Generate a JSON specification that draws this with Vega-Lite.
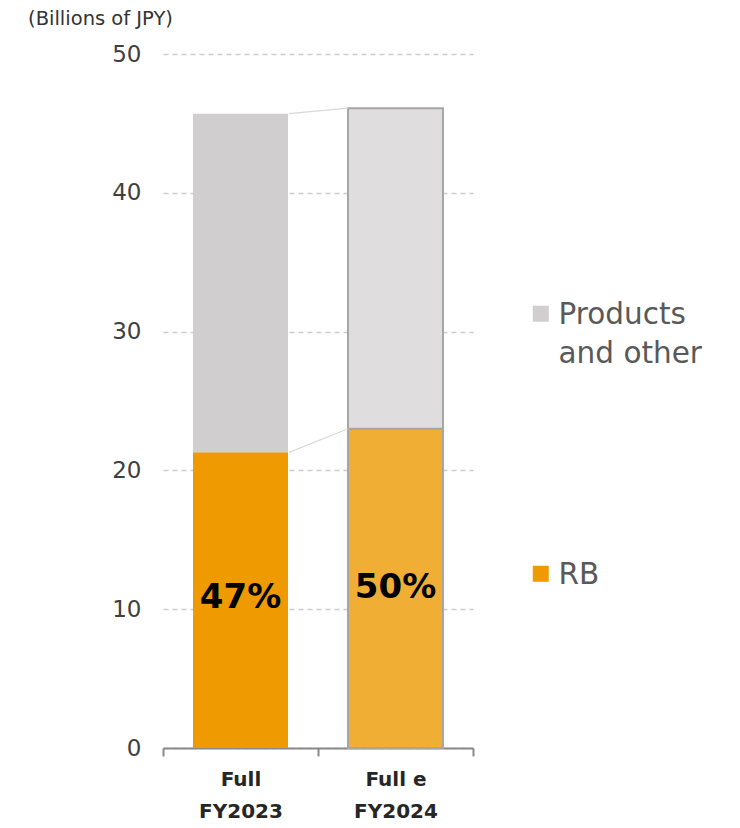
{
  "$schema": "https://vega.github.io/schema/vega-lite/v6.json",
  "width": 310,
  "height": 694,
  "autosize": "none",
  "padding": {"left": 163, "top": 54, "right": 267, "bottom": 80},
  "background": "white",
  "config": {"view": {"stroke": null}, "font": "DejaVu Sans"},
  "datasets": {
    "bars": [
      {"year": "FY2023", "series": "RB", "value": 21.3, "ord": 1},
      {"year": "FY2023", "series": "Products and other", "value": 24.4, "ord": 2},
      {"year": "FY2024", "series": "RB", "value": 23.0, "ord": 1},
      {"year": "FY2024", "series": "Products and other", "value": 23.1, "ord": 2}
    ],
    "labels": [
      {"year": "FY2023", "pct": "47%", "mid": 10.8},
      {"year": "FY2024", "pct": "50%", "mid": 11.5}
    ],
    "links": [
      {"from": "FY2023", "to": "FY2024", "a": 45.7, "b": 46.1},
      {"from": "FY2023", "to": "FY2024", "a": 21.3, "b": 23.0}
    ]
  },
  "layer": [
    {
      "data": {"name": "bars"},
      "transform": [{"filter": "datum.year == 'FY2023'"}],
      "mark": {"type": "bar", "width": {"band": 0.613}},
      "encoding": {
        "x": {
          "field": "year", "type": "nominal",
          "scale": {"domain": ["FY2023", "FY2024"], "paddingInner": 0, "paddingOuter": 0},
          "axis": {
            "title": null, "labelAngle": 0, "domain": true, "domainColor": "#898989", "domainWidth": 2,
            "ticks": true, "tickColor": "#898989", "tickWidth": 2, "tickSize": 8, "tickBand": "extent",
            "labelFontSize": 20, "labelFontWeight": "bold", "labelColor": "#262626", "labelPadding": 13,
            "labelLineHeight": 32,
            "labelExpr": "datum.value == 'FY2023' ? ['Full', 'FY2023'] : datum.value == 'FY2024' ? ['Full e', 'FY2024'] : ''"
          }
        },
        "y": {
          "field": "value", "type": "quantitative", "stack": "zero",
          "scale": {"domain": [0, 50], "nice": false},
          "axis": {
            "values": [0, 10, 20, 30, 40, 50],
            "title": "(Billions of JPY)", "titleAngle": 0, "titleX": -63, "titleY": -36,
            "titleAlign": "center", "titleBaseline": "middle", "titleFontSize": 19.5,
            "titleFontWeight": "normal", "titleColor": "#333333",
            "ticks": false, "domain": false, "labelFontSize": 23, "labelColor": "#404040",
            "labelPadding": 22, "grid": true, "gridDash": [5, 4], "gridColor": "#cccccc", "gridWidth": 1.5
          }
        },
        "color": {
          "field": "series", "type": "nominal",
          "scale": {"domain": ["Products and other", "RB"], "range": ["#D0CECE", "#EE9A00"]},
          "legend": {
            "orient": "none", "legendX": 363, "legendY": 245, "title": null,
            "symbolType": "square", "symbolSize": 256, "symbolStrokeWidth": 0,
            "labelFontSize": 29.5, "labelColor": "#595959", "labelOffset": 3,
            "rowPadding": 190, "labelBaseline": "alphabetic",
            "labelLimit": 300, "padding": 0,
            "labelExpr": "datum.label == 'Products and other' ? ['Products', 'and other'] : datum.label",
            "encode": {"labels": {"update": {"dy": {"value": 10}, "lineHeight": {"value": 39}}}}
          }
        },
        "order": {"field": "ord", "type": "quantitative"}
      }
    },
    {
      "data": {"name": "bars"},
      "transform": [{"filter": "datum.year == 'FY2024'"}],
      "mark": {"type": "bar", "width": {"band": 0.613}, "stroke": "#a6a6a6", "strokeWidth": 2},
      "encoding": {
        "x": {"field": "year", "type": "nominal"},
        "y": {"field": "value", "type": "quantitative", "stack": "zero"},
        "fill": {
          "field": "series", "type": "nominal",
          "scale": {"domain": ["Products and other", "RB"], "range": ["#DFDDDD", "#F1AE35"]},
          "legend": null
        },
        "order": {"field": "ord", "type": "quantitative"}
      }
    },
    {
      "data": {"name": "links"},
      "mark": {"type": "rule", "color": "#d9d9d9", "strokeWidth": 1.2},
      "encoding": {
        "x": {"field": "from", "type": "nominal", "bandPosition": 0.813},
        "x2": {"field": "to", "bandPosition": 0.194},
        "y": {"field": "a", "type": "quantitative"},
        "y2": {"field": "b"}
      }
    },
    {
      "data": {"name": "labels"},
      "mark": {"type": "text", "fontSize": 34, "fontWeight": "bold", "color": "#000000", "baseline": "middle", "align": "center"},
      "encoding": {
        "x": {"field": "year", "type": "nominal"},
        "y": {"field": "mid", "type": "quantitative"},
        "text": {"field": "pct"}
      }
    }
  ]
}
